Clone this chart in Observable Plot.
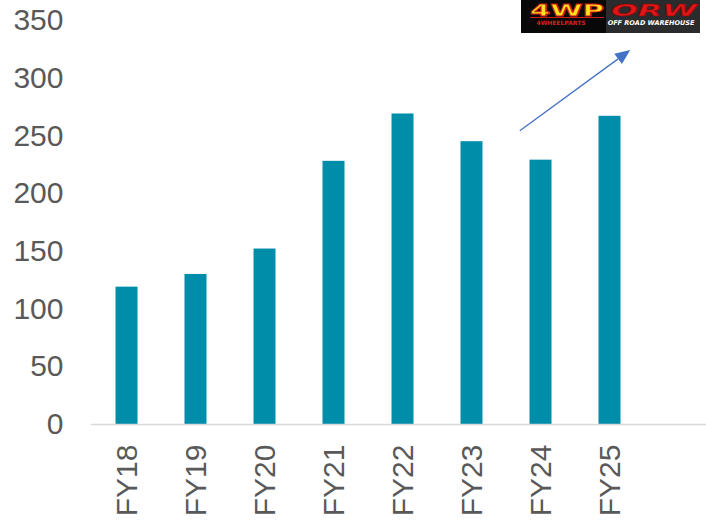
<!DOCTYPE html>
<html><head><meta charset="utf-8">
<script src="https://cdn.jsdelivr.net/npm/d3@7"></script>
<script src="https://cdn.jsdelivr.net/npm/@observablehq/plot@0.6"></script>
<style>body{margin:0;background:#fff} svg{display:block}</style>
</head><body><div id="chart"></div>
<script>
const years = ["FY18","FY19","FY20","FY21","FY22","FY23","FY24","FY25"];
const values = [119,130,152,228,269,245,229,267];
const yTicks = [0,50,100,150,200,250,300,350];
const arrowFrom = {year:"FY24", offset:0.2, value:254};
const arrowTo = {year:"FY25", offset:0.8, value:324};
const logoLeftText = ["4WP","4WHEELPARTS"];
const logoRightText = ["ORW","OFF ROAD WAREHOUSE"];

const data = years.map((year,i)=>({year, value: values[i]}));
const font = "'Liberation Sans', Arial, sans-serif";

const plot = Plot.plot({
  width:706, height:521, marginLeft:91, marginRight:0, marginTop:20, marginBottom:97,
  style:{fontFamily:font, background:"#fff", overflow:"visible"},
  x:{domain:years, range:[91, 644.1], padding:0, label:null},
  y:{domain:[0,350], label:null},
  marks:[
    Plot.barY(data,{x:"year", y:"value", fill:"#008DAA", insetLeft:23.5, insetRight:23.5}),
    Plot.ruleY([0],{stroke:"#D9D9D9", strokeWidth:1.5}),
    Plot.axisY({ticks:yTicks, tickSize:0, tickPadding:28, fontSize:30, fill:"#595959", label:null}),
    Plot.axisX({tickSize:0, tickPadding:20, tickRotate:-90, fontSize:30, fill:"#595959", label:null})
  ]
});
document.getElementById("chart").appendChild(plot);

const svg = d3.select(plot);
const sx = plot.scale("x"), sy = plot.scale("y");
const bw = sx.bandwidth;
const px = p => sx.apply(p.year) + p.offset*bw;
const py = p => sy.apply(p.value);

// arrow
const x1 = px(arrowFrom), y1 = py(arrowFrom), x2 = px(arrowTo), y2 = py(arrowTo);
const ang = Math.atan2(y2-y1, x2-x1);
const hl = 15, hw = 6.5;
const bx = x2 - hl*Math.cos(ang), by = y2 - hl*Math.sin(ang);
svg.append("line").attr("x1",x1).attr("y1",y1).attr("x2",bx).attr("y2",by)
  .attr("stroke","#4472C4").attr("stroke-width",1.3);
svg.append("polygon").attr("fill","#4472C4").attr("points",[
  [x2,y2],
  [bx + hw*Math.sin(ang), by - hw*Math.cos(ang)],
  [bx - hw*Math.sin(ang), by + hw*Math.cos(ang)]
].map(p=>p.join(",")).join(" "));

// logos
const g = svg.append("g").attr("text-anchor","start");
g.append("rect").attr("x",521).attr("y",0).attr("width",86).attr("height",33).attr("fill","#080808");
g.append("rect").attr("x",606).attr("y",0).attr("width",94).attr("height",33).attr("fill","#2a2b2c");
g.append("text").text(logoLeftText[0]).attr("x",530).attr("y",15.5).attr("text-anchor","start")
  .attr("textLength",74).attr("lengthAdjust","spacingAndGlyphs")
  .attr("font-family","'DejaVu Sans', sans-serif").attr("font-weight",900).attr("font-size",16)
  .attr("fill","#FFE21A").attr("stroke","#d01818").attr("stroke-width",0.8);
g.append("line").attr("x1",530).attr("x2",604).attr("y1",17.5).attr("y2",17.5).attr("stroke","#c81e1e").attr("stroke-width",1);
g.append("text").text(logoLeftText[1]).attr("x",561).attr("y",24.5).attr("text-anchor","middle")
  .attr("font-family","'DejaVu Sans', sans-serif").attr("font-weight",700).attr("font-size",6)
  .attr("fill","#d52020");
g.append("text").text(logoRightText[0]).attr("x",611).attr("y",15.5).attr("text-anchor","start")
  .attr("textLength",86).attr("lengthAdjust","spacingAndGlyphs")
  .attr("font-family","'DejaVu Sans', sans-serif").attr("font-weight",900).attr("font-style","italic").attr("font-size",16)
  .attr("fill","#e01515").attr("stroke","#7a0a0a").attr("stroke-width",0.6);
g.append("text").text(logoRightText[1]).attr("x",651).attr("y",24.5).attr("text-anchor","middle")
  .attr("font-family","'DejaVu Sans', sans-serif").attr("font-weight",700).attr("font-style","italic").attr("font-size",6.5)
  .attr("fill","#ffffff");
</script>
</body></html>
